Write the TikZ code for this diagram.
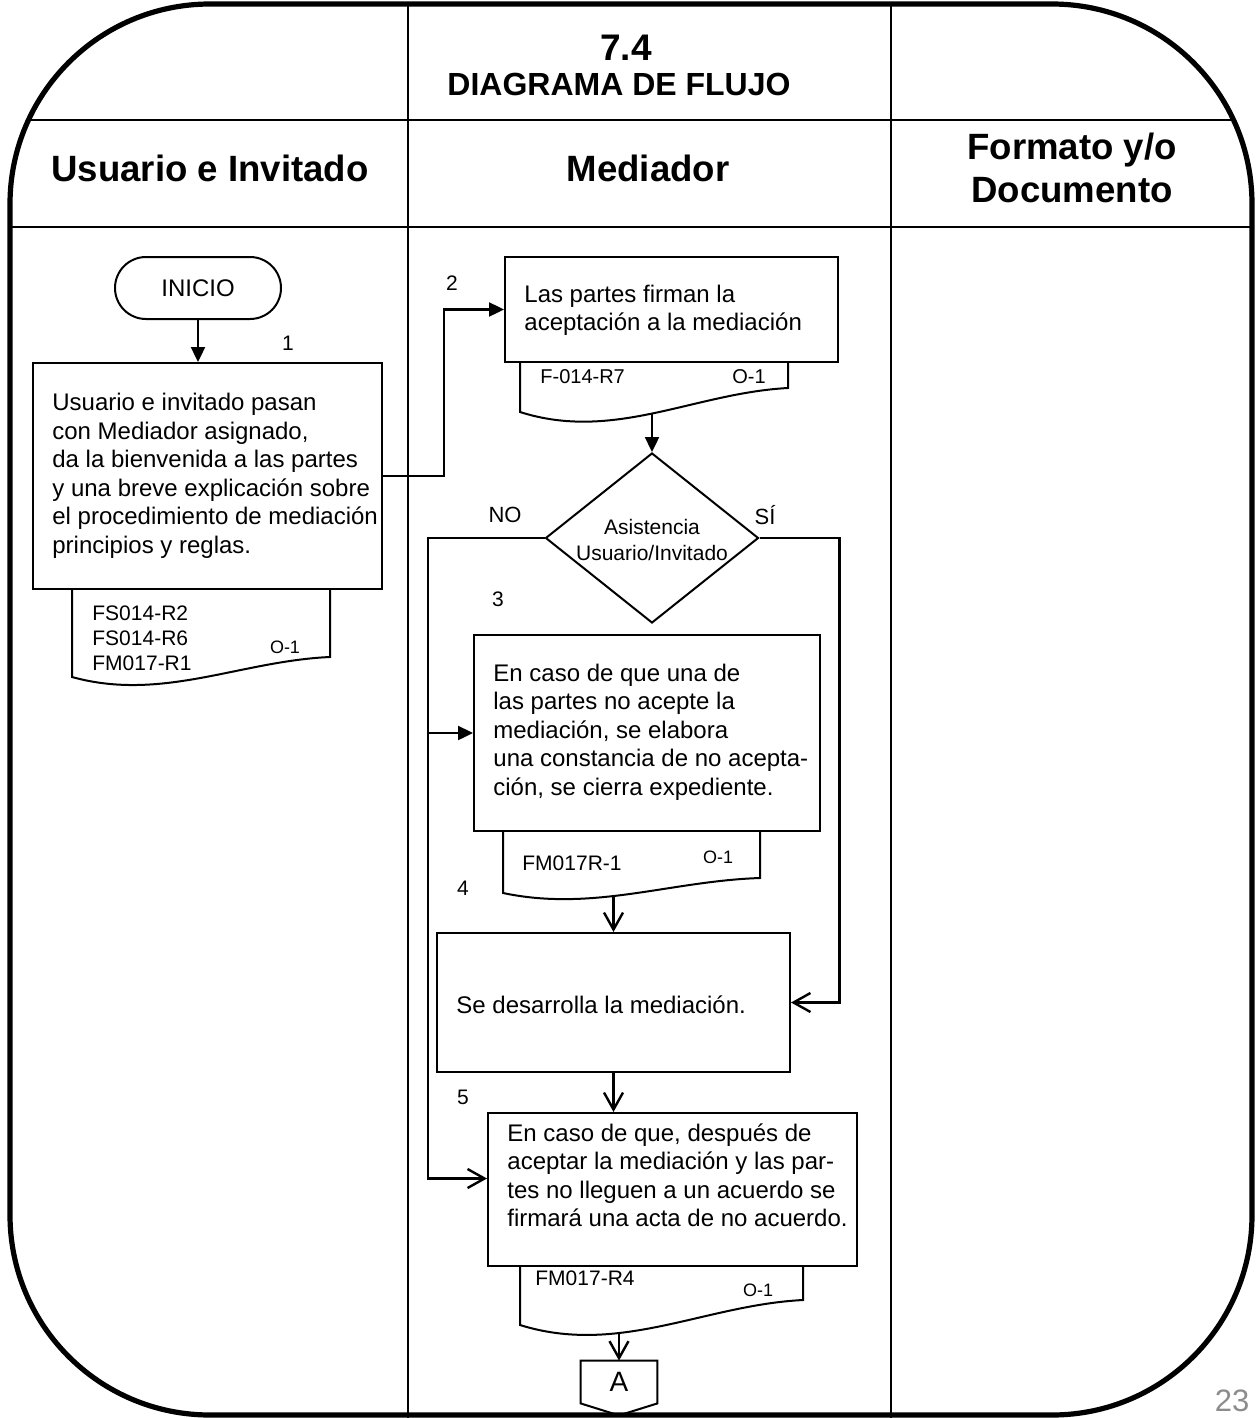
\documentclass[tikz,border=0pt]{standalone}
\usepackage{fontspec}
\setmainfont{Liberation Sans}
\usetikzlibrary{arrows.meta,shapes.geometric,calc}
\definecolor{pagegray}{gray}{0.55}
\newcommand{\fsz}[2]{\fontsize{#1}{#2}\selectfont}

\begin{document}
\begin{tikzpicture}[x=0.5pt,y=-0.5pt,
  outerframe/.style={line width=2.6pt, rounded corners=100pt},
  headtxt/.style={font=\bfseries\fsz{18.3}{21.5}, align=center, inner sep=0pt},
  procbox/.style={draw, line width=1pt, inner sep=0pt},
  boxtxt/.style={anchor=west, align=left, inner sep=0pt, font=\fsz{12}{14.25}},
  doctxt/.style={anchor=west, align=left, inner sep=0pt, font=\fsz{10.5}{12.5}},
  smalltxt/.style={inner sep=0pt, font=\fsz{9}{11}},
  numlabel/.style={inner sep=0pt, font=\fsz{10.5}{12.5}},
  docline/.style={line width=1pt},
  conline/.style={line width=1.2pt},
  farrow/.style={conline, -{Triangle[length=7.5pt,width=7pt]}},
  varrow/.style={conline, -{Straight Barb[length=8.5pt,width=9.5pt]}},
]
\useasboundingbox (0,0) rectangle (1258,1418);

% ---- table: header rules, column rules, rounded outer frame
\begin{scope}
  \clip[rounded corners=100pt] (10,4) rectangle (1252,1415);
  \draw[line width=0.8pt] (0,120) -- (1258,120);
  \draw[line width=1.2pt] (0,227) -- (1258,227);
\end{scope}
\draw[line width=1pt] (408,4) -- (408,1418);
\draw[line width=1pt] (891,4) -- (891,1418);
\draw[outerframe] (10,4) rectangle (1252,1415);

% ---- headings
\node[headtxt, font=\bfseries\fsz{18.5}{20}] (num) at (626,48) {7.4};
\node[headtxt, font=\bfseries\fsz{16}{18}] (ttl) at (619,84) {DIAGRAMA DE FLUJO};
\node[headtxt] (h1) at (210,168) {Usuario e Invitado};
\node[headtxt] (h2) at (648,168) {Mediador};
\node[headtxt] (h3) at (1072,168) {Formato y/o\\Documento};

% ---- documents (drawn under their boxes)
\draw[docline] (72,589) -- (72,677) .. controls (162,702) and (240,661) .. (330,657) -- (330,589);
\draw[docline] (520,362) -- (520,412) .. controls (614,442) and (694,393) .. (788,388) -- (788,362);
\draw[docline] (503,831) -- (503,893) .. controls (593,912) and (670,881) .. (760,878) -- (760,831);
\draw[docline] (520,1266) -- (520,1325) .. controls (619,1356) and (704,1305) .. (803,1300) -- (803,1266);

% ---- start
\node[draw, line width=1pt, rounded corners=15.5pt, minimum width=83pt, minimum height=31pt,
      inner sep=0pt, font=\fsz{12}{14.25}] (inicio) at (198,288) {INICIO};

% ---- process boxes
\node[procbox, minimum width=174.5pt, minimum height=113pt] (b1) at (207.5,476) {};
\node[boxtxt] (b1t) at ($(b1.west)+(20,0)$) {Usuario e invitado pasan\\con Mediador asignado,\\da la bienvenida a las partes\\y una breve explicación sobre\\el procedimiento de mediación\\principios y reglas.};

\node[procbox, minimum width=166.5pt, minimum height=52.5pt] (b2) at (671.5,309.5) {};
\node[boxtxt] (b2t) at ($(b2.west)+(20,1)$) {Las partes firman la\\aceptación a la mediación};

\node[procbox, minimum width=173pt, minimum height=98pt] (b3) at (647,733) {};
\node[boxtxt] (b3t) at ($(b3.west)+(20,-1)$) {En caso de que una de\\las partes no acepte la\\mediación, se elabora\\una constancia de no acepta-\\ción, se cierra expediente.};

\node[procbox, minimum width=176.5pt, minimum height=69.5pt] (b4) at (613.5,1002.5) {};
\node[boxtxt] (b4t) at ($(b4.west)+(20,2)$) {Se desarrolla la mediación.};

\node[procbox, minimum width=184.5pt, minimum height=76.5pt] (b5) at (672.5,1189.5) {};
\node[boxtxt] (b5t) at ($(b5.west)+(20,-14)$) {En caso de que, después de\\aceptar la mediación y las par-\\tes no lleguen a un acuerdo se\\firmará una acta de no acuerdo.};

% ---- decision
\node[draw, diamond, line width=1pt, minimum width=106.5pt, minimum height=85pt, inner sep=0pt] (dia) at (652,538) {};
\node[align=center, inner sep=0pt, font=\fsz{10.5}{13}] (diat) at ($(dia.center)+(0,2)$) {Asistencia\\Usuario/Invitado};

% ---- off-page connector
\node[inner sep=0pt, minimum width=38pt, minimum height=21pt, font=\fsz{14}{16}] (conA) at (619,1382) {A};
\draw[line width=1pt] (conA.north west) -- (conA.north east) -- (conA.south east)
  -- ($(conA.south)+(0,12)$) -- (conA.south west) -- cycle;

% ---- document texts
\node[doctxt] (t1) at (92,638) {FS014-R2\\FS014-R6\\FM017-R1};
\node[smalltxt] (o1) at (285,647) {O-1};
\node[doctxt, font=\fsz{10}{12}] (t2) at (540,377) {F-014-R7};
\node[smalltxt, font=\fsz{10}{12}] (o2) at (749,377) {O-1};
\node[doctxt] (t3) at (522,863) {FM017R-1};
\node[smalltxt] (o3) at (718,857) {O-1};
\node[doctxt] (t5) at (535,1278) {FM017-R4};
\node[smalltxt] (o5) at (758,1290) {O-1};

% ---- step numbers and branch labels
\node[numlabel] (n1) at (288,343) {1};
\node[numlabel] (n2) at (452,283) {2};
\node[numlabel] (n3) at (498,599) {3};
\node[numlabel] (n4) at (463,888) {4};
\node[numlabel] (n5) at (463,1097) {5};
\node[numlabel, font=\fsz{11}{13}] (lno) at (505,515) {NO};
\node[numlabel, font=\fsz{11}{13}] (lsi) at (765,515) {SÍ};

% ---- connectors
\coordinate (d2b) at (652,413);
\coordinate (d3b) at (613.5,896);
\coordinate (d5b) at (619,1333);
\coordinate (nobend) at (428,538);

\draw[farrow] (inicio.south) -- (inicio.south |- b1.north);
\draw[farrow] (b1.east) -- ++(61,0) |- (b2.west);
\draw[farrow] (d2b) -- (dia.north);
\draw[varrow] (dia.west) -- (nobend) |- ($(b5.west)+(0,-11)$);
\draw[farrow] (nobend |- b3.west) -- (b3.west);
\draw[varrow] (dia.east) -- ++(80,0) |- (b4.east);
\draw[varrow] (d3b) -- (b4.north);
\draw[varrow] (b4.south) -- (b4.south |- b5.north);
\draw[varrow] (d5b) -- (conA.north);

% ---- page number
\node[inner sep=0pt, font=\fsz{15.5}{17}, text=pagegray] (pg) at (1232,1401) {23};
\end{tikzpicture}
\end{document}
